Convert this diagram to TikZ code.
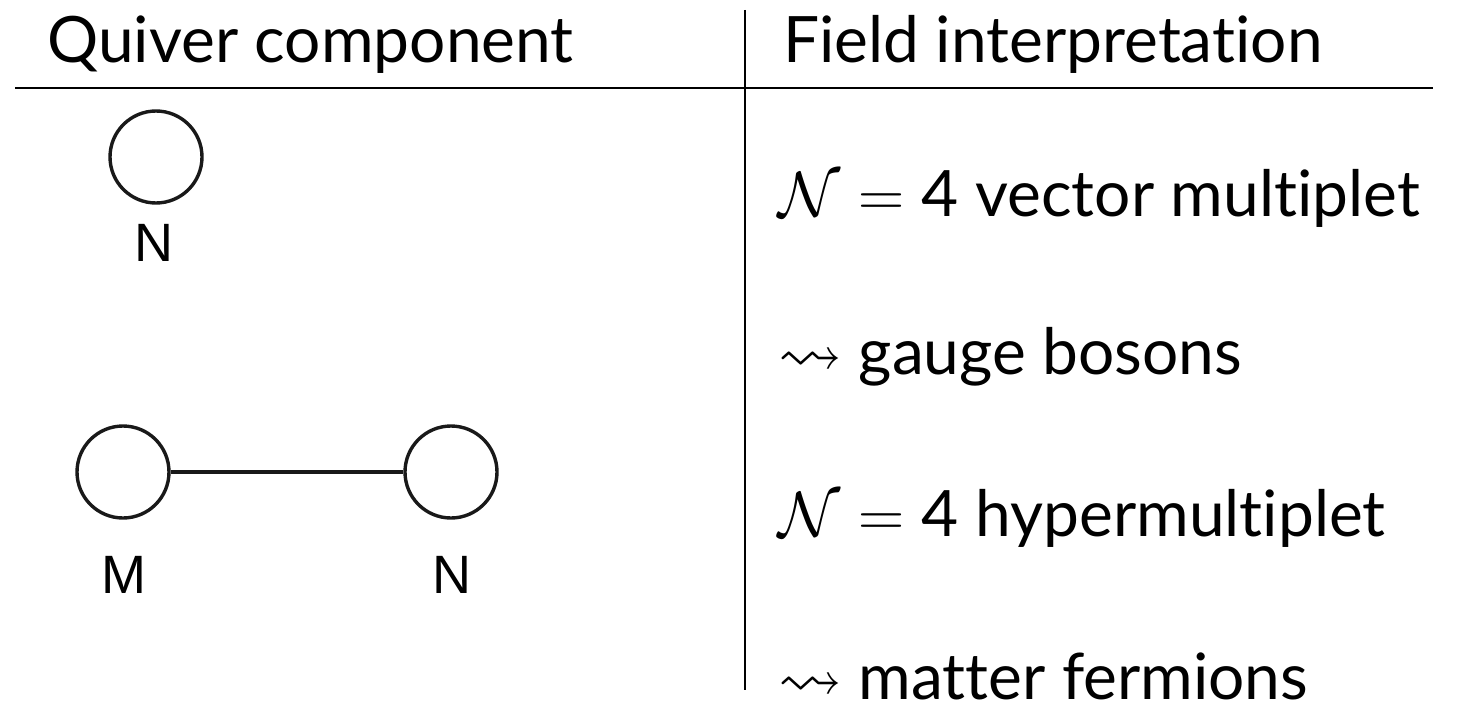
\RequirePackage{fix-cm}
\documentclass[tikz,border=0pt]{standalone}
\usepackage{amssymb}
\usepackage{fontspec}
\setmainfont[Ligatures=NoCommon]{Lato}
\newfontfamily\labelfont{Liberation Sans}
\begin{document}
\begin{tikzpicture}[x=0.5pt,y=-0.5pt,
  head/.style={anchor=base west,inner sep=0pt,font=\fontsize{32}{38}\selectfont},
  body/.style={anchor=base west,inner sep=0pt,font=\fontsize{32}{38}\selectfont},
  gnode/.style={circle,draw=black!90,line width=1.7pt,minimum size=46pt,inner sep=0pt},
  glabel/.style={inner sep=0pt,font=\labelfont\fontsize{27}{32}\selectfont},
  rule/.style={line width=1.2pt},
  vrule/.style={line width=0.85pt}]
\useasboundingbox (0,0) rectangle (1461,717);
\node[head] (h1) at (47,63) {Quiver component};
\node[head] (h2) at (783,63) {Field interpretation};
\coordinate (hl) at (15,88);
\coordinate (hr) at (1433,88);
\coordinate (vt) at (745,10);
\coordinate (vb) at (745,690);
\draw[rule] (hl) -- (hr);
\draw[vrule] (vt) -- (vb);
% quiver components
\node[gnode] (g1) at (156,157) {};
\node[glabel] (l1) at (154,242.5) {N};
\node[gnode] (gm) at (123,472) {};
\node[gnode] (gn) at (451,472) {};
\draw[line width=1.7pt,draw=black!90] (gm) -- (gn);
\node[glabel] (lm) at (124,575) {M};
\node[glabel] (ln) at (452,575) {N};
% field interpretation
\node[body] (f1) at (778,216) {$\mathcal{N}=\mbox{4}$ vector multiplet};
\node[body] (f2) at (778,374) {$\rightsquigarrow$ gauge bosons};
\node[body] (f3) at (778,536) {$\mathcal{N}=\mbox{4}$ hypermultiplet};
\node[body] (f4) at (778,699) {$\rightsquigarrow$ matter fermions};
\end{tikzpicture}
\end{document}
